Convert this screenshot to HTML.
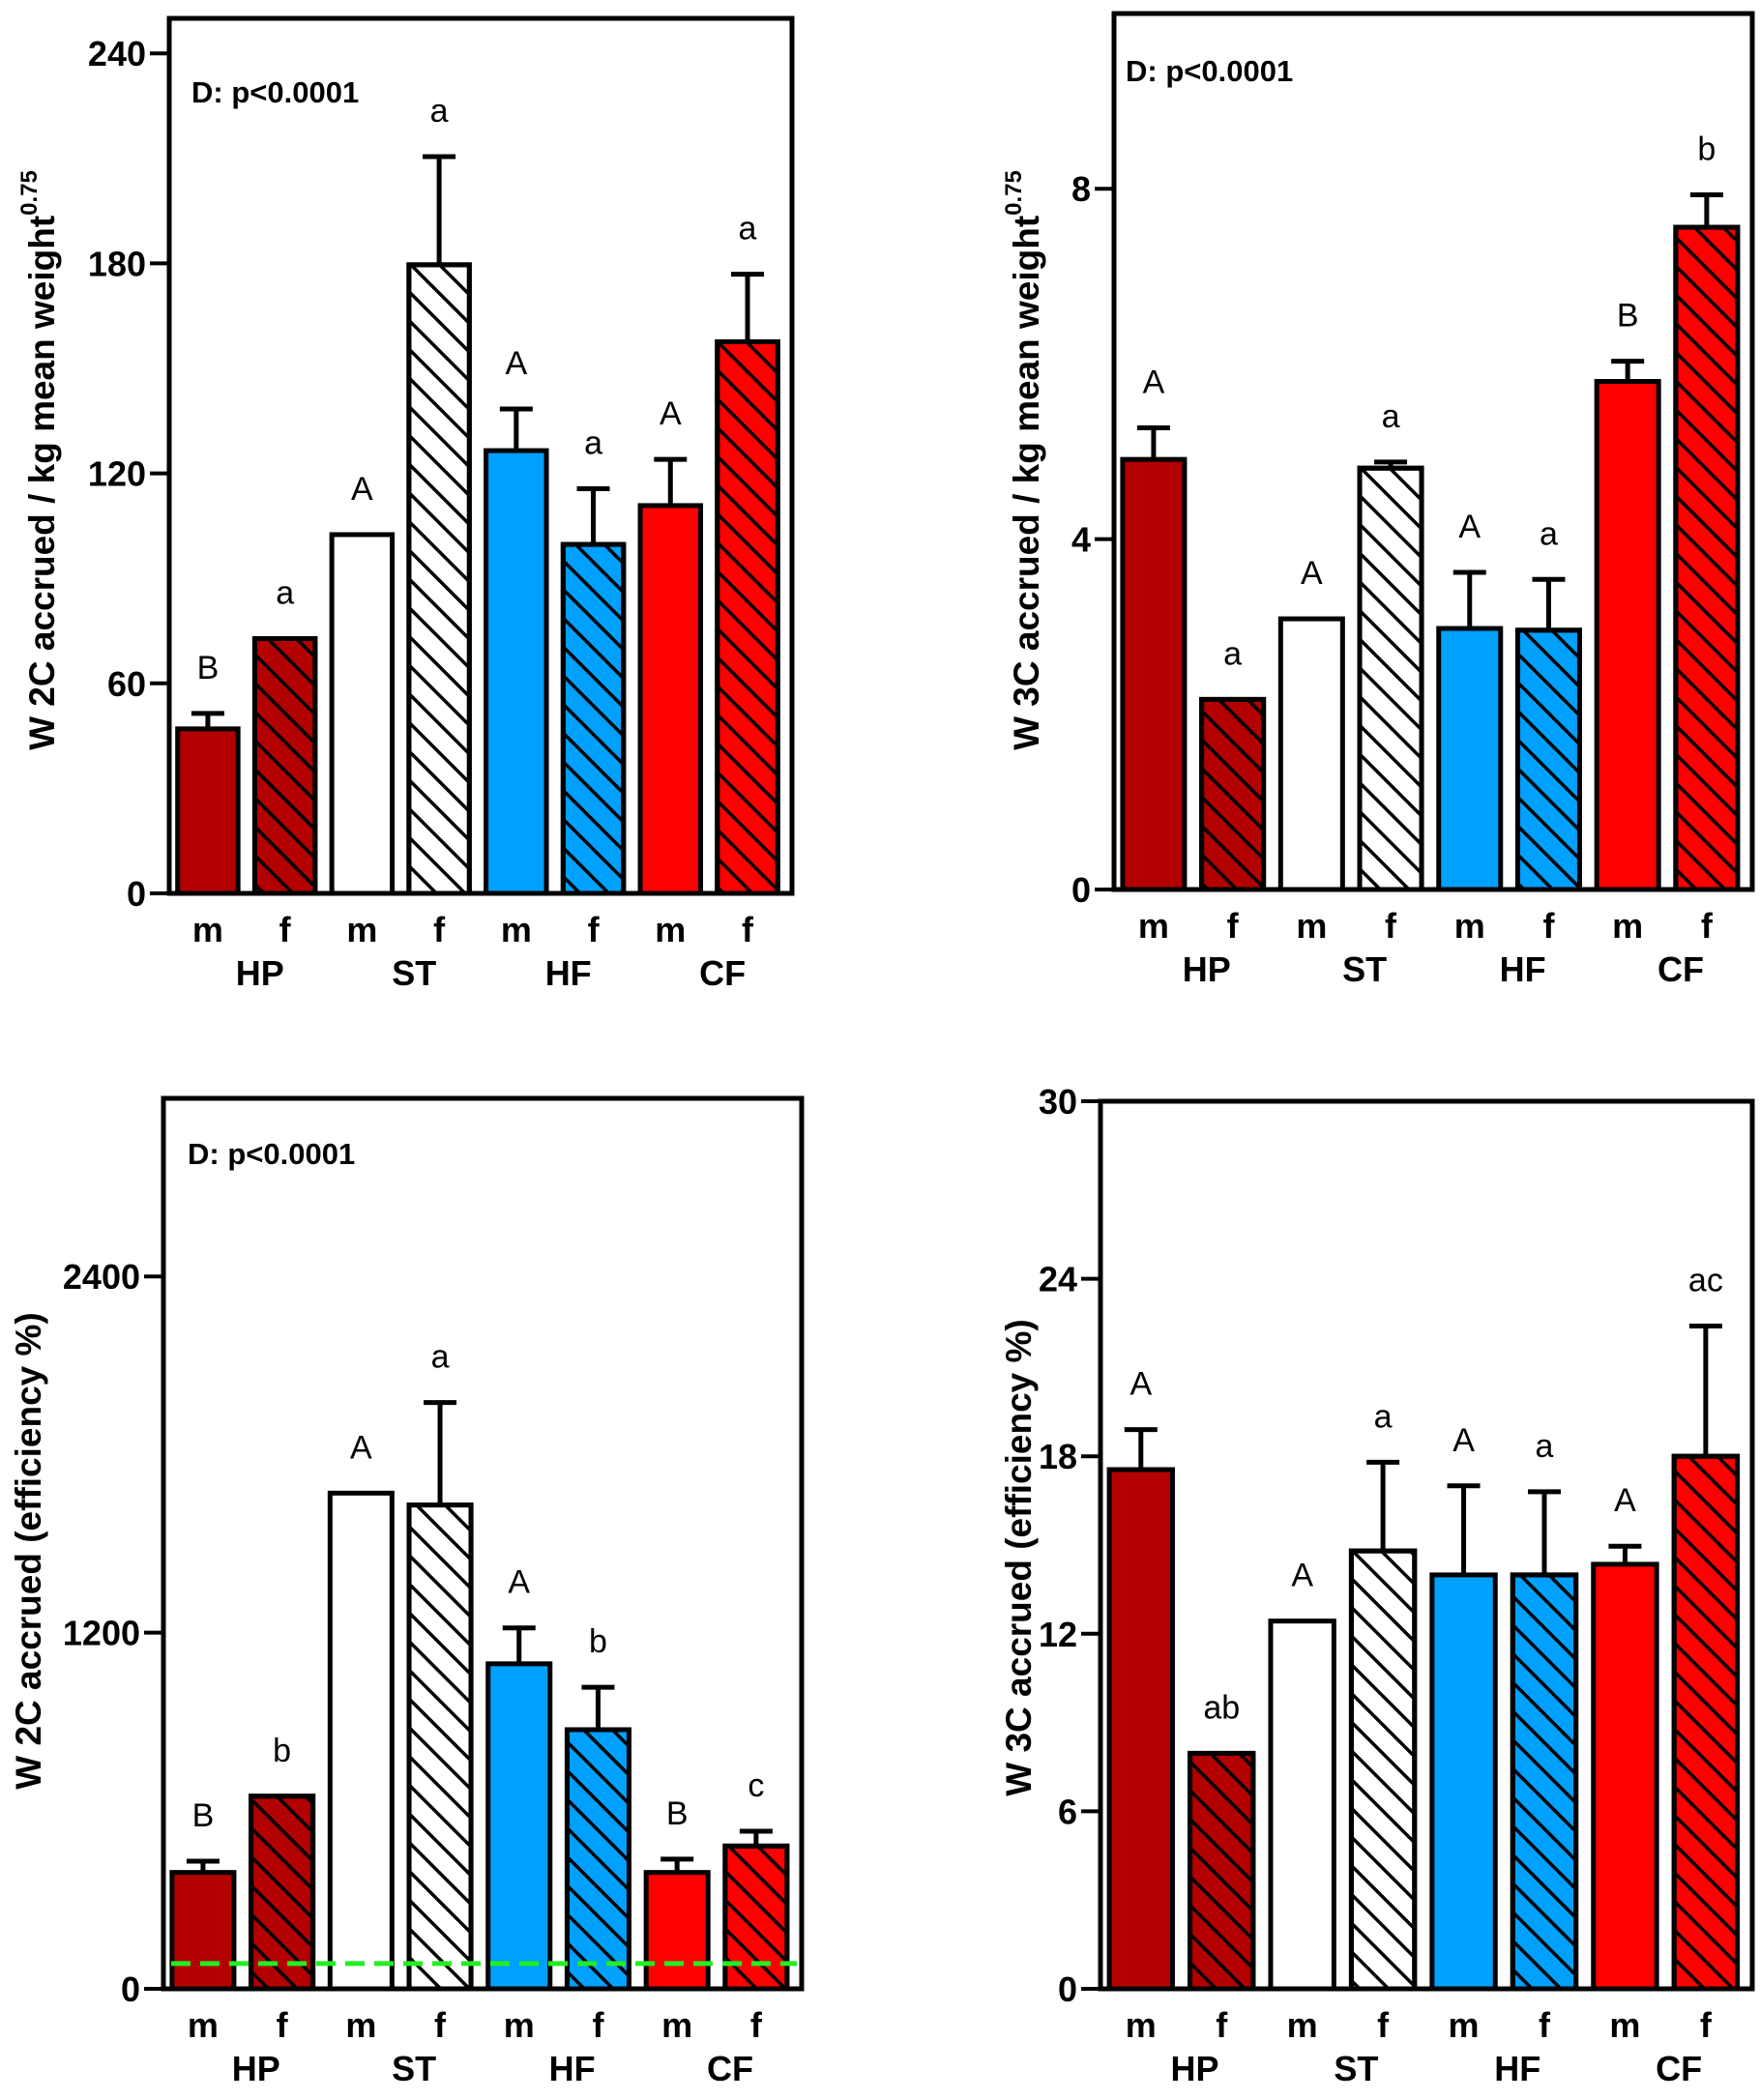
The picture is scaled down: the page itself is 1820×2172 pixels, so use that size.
<!DOCTYPE html>
<html><head><meta charset="utf-8"><style>
html,body{margin:0;padding:0;background:#fff;}
svg{display:block;font-family:"Liberation Sans",Arial,sans-serif;}
</style></head><body>
<svg id="chart" width="1820" height="2172" viewBox="0 0 1820 2172" xmlns="http://www.w3.org/2000/svg">
<defs>
<pattern id="hatch" patternUnits="userSpaceOnUse" width="21" height="21" patternTransform="rotate(-45)">
<rect x="0" y="0" width="21" height="21" fill="none"/>
<line x1="0" y1="0" x2="0" y2="21" stroke="#000" stroke-width="7"/>
</pattern>
</defs>
</svg>
<script>
const categories = ["m","f","m","f","m","f","m","f"];
const groups = ["HP","ST","HF","CF"];
const colors = ["#b30000","#b30000","#ffffff","#ffffff","#00a0ff","#00a0ff","#ff0000","#ff0000"];
const hatched = [false,true,false,true,false,true,false,true];

const p1Values = [47, 72.8, 102.5, 179.6, 126.5, 99.7, 110.8, 157.6];
const p1Errors = [51.4, null, null, 210.5, 138.4, 115.6, 124, 176.9];
const p1Letters = ["B","a","A","a","A","a","A","a"];
const p1Ticks = [0, 60, 120, 180, 240];

const p2Values = [4.91, 2.17, 3.09, 4.81, 2.98, 2.96, 5.80, 7.56];
const p2Errors = [5.27, null, null, 4.88, 3.62, 3.54, 6.03, 7.93];
const p2Letters = ["A","a","A","a","A","a","B","b"];
const p2Ticks = [0, 4, 8];

const p3Values = [392, 649, 1670, 1630, 1095, 873, 392, 481];
const p3Errors = [430, null, null, 1975, 1216, 1016, 437, 531];
const p3Letters = ["B","b","A","a","A","b","B","c"];
const p3Ticks = [0, 1200, 2400];
const p3Reference = [85];

const p4Values = [17.55, 7.96, 12.43, 14.8, 13.99, 13.99, 14.35, 18.0];
const p4Errors = [18.9, null, null, 17.8, 17.0, 16.8, 14.96, 22.4];
const p4Letters = ["A","ab","A","a","A","a","A","ac"];
const p4Ticks = [0, 6, 12, 18, 24, 30];

const NS = "http://www.w3.org/2000/svg";
const svg = document.getElementById("chart");
function mk(tag, attrs, parent, text){
  const e = document.createElementNS(NS, tag);
  for (const k in attrs) e.setAttribute(k, attrs[k]);
  if (text !== undefined) e.textContent = text;
  (parent || svg).appendChild(e);
  return e;
}

function panel(cfg, values, errors, letters, ticks){
  const g = mk("g", {});
  
  
  const W = cfg.x1 - cfg.x0;
  const yScale = v => cfg.yBase - (v / cfg.max) * (cfg.yBase - cfg.yTop);
  const slot = W * 0.1238, pad = W * 0.0135, bw = W * 0.097;
  const xBar = i => cfg.x0 + pad + i * slot;

  values.forEach((v, i) => {
    const x = xBar(i), y = yScale(v);
    const r = mk("rect", {x: x, y: y, width: bw, height: cfg.yBase - y, fill: colors[i], stroke: "#000", "stroke-width": 5}, g);
    
    
    if (hatched[i]) {
      const h = mk("rect", {x: x, y: y, width: bw, height: cfg.yBase - y, fill: "url(#hatch)", stroke: "#000", "stroke-width": 5}, g);
      
      
    }
    let top = y;
    if (errors[i] !== null) {
      const ye = yScale(errors[i]);
      const cx = x + bw / 2;
      const eb = mk("path", {d: `M${cx},${y} L${cx},${ye} M${cx-17},${ye} L${cx+17},${ye}`, stroke: "#000", "stroke-width": 5, fill: "none"}, g);
      
      
      top = ye;
    }
    const t = mk("text", {x: x + bw/2, y: top - 36, "text-anchor": "middle", "font-size": 34}, g, letters[i]);
    
    
    const c = mk("text", {x: x + bw/2, y: cfg.yBase + 50, "text-anchor": "middle", "font-size": 36, "font-weight": "bold"}, g, categories[i]);
    
    
  });
  groups.forEach((gr, j) => {
    const cx = (xBar(2*j) + xBar(2*j+1) + bw) / 2 + 14;
    const t = mk("text", {x: cx, y: cfg.yBase + 95, "text-anchor": "middle", "font-size": 36, "font-weight": "bold"}, g, gr);
    
    
  });
  if (cfg.ref) cfg.ref.forEach(v => {
    const l = mk("line", {x1: cfg.x0 + 8, x2: cfg.x1 - 5, y1: yScale(v), y2: yScale(v), stroke: "#22ee22", "stroke-width": 5, "stroke-dasharray": "20,10"}, g);
    
    
  });
  const f = mk("rect", {x: cfg.x0, y: cfg.yTop, width: W, height: cfg.yBase - cfg.yTop, fill: "none", stroke: "#000", "stroke-width": 5}, g);
  
  
  ticks.forEach(t => {
    const y = yScale(t);
    const tl = mk("line", {x1: cfg.x0 - 20, x2: cfg.x0, y1: y, y2: y, stroke: "#000", "stroke-width": 4}, g);
    
    
    const tx = mk("text", {x: cfg.x0 - 24, y: y + 13, "text-anchor": "end", "font-size": 36, "font-weight": "bold"}, g, String(t));
    
    
  });
  const tt = mk("text", {x: 0, y: 0, transform: `translate(${cfg.titleX},${cfg.titleY}) rotate(-90)`, "text-anchor": "middle", "font-size": 37, "font-weight": "bold"}, g);
  
  
  tt.textContent = cfg.title;
  if (cfg.sup) {
    mk("tspan", {"font-size": 24, dy: -18}, tt, cfg.sup);
  }
  if (cfg.dx) {
    const d = mk("text", {x: cfg.dx, y: cfg.dy, "font-size": 31, "font-weight": "bold"}, g, "D: p<0.0001");
    
    
  }
}

panel({name:"panel-w2c-weight", x0:175, x1:819, yTop:19, yBase:924, max:250, title:"W 2C accrued / kg mean weight", sup:"0.75", titleX:56, titleY:476, dx:198, dy:106}, p1Values, p1Errors, p1Letters, p1Ticks);
panel({name:"panel-w3c-weight", x0:1152, x1:1812, yTop:14, yBase:920, max:10, title:"W 3C accrued / kg mean weight", sup:"0.75", titleX:1074, titleY:476, dx:1164, dy:84}, p2Values, p2Errors, p2Letters, p2Ticks);
panel({name:"panel-w2c-efficiency", x0:169, x1:829, yTop:1136, yBase:2057, max:3000, title:"W 2C accrued (efficiency %)", titleX:42, titleY:1604, dx:194, dy:1204, ref:p3Reference}, p3Values, p3Errors, p3Letters, p3Ticks);
panel({name:"panel-w3c-efficiency", x0:1138, x1:1812, yTop:1139, yBase:2057, max:30, title:"W 3C accrued (efficiency %)", titleX:1066, titleY:1611}, p4Values, p4Errors, p4Letters, p4Ticks);
</script>
</body></html>
